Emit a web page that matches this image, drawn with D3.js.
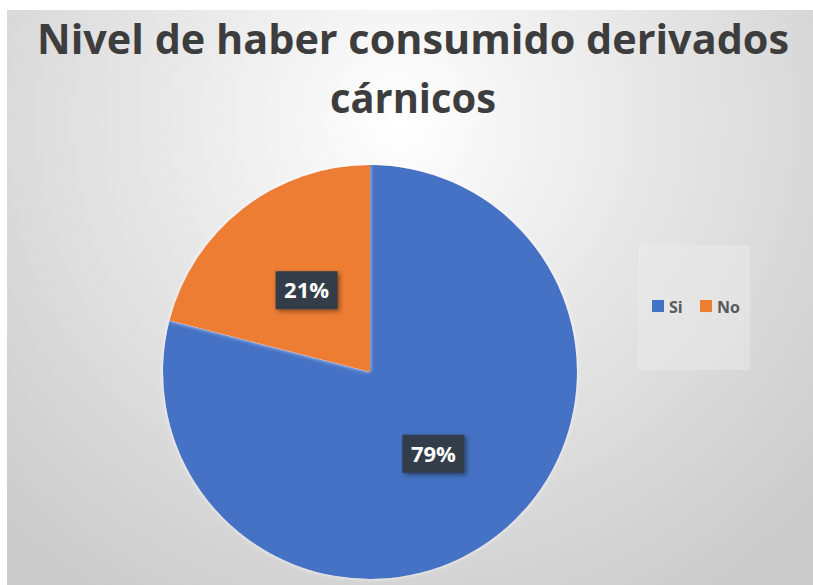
<!DOCTYPE html>
<html><head><meta charset="utf-8">
<script src="https://cdn.jsdelivr.net/npm/d3@7"></script>
<style>html,body{margin:0;padding:0;background:#fff;}svg{display:block;}</style>
</head><body>
<svg id="chart" width="813" height="585"></svg>
<script>
const titleLines = ["Nivel de haber consumido derivados", "cárnicos"];
const categories = ["Si", "No"];
const values = [79, 21];
const colors = ["#4472C4", "#ED7D31"];

const W = 813, H = 585;
const svg = d3.select("#chart");
const defs = svg.append("defs");
const grad = defs.append("radialGradient").attr("id","bg")
  .attr("gradientUnits","userSpaceOnUse").attr("cx",400).attr("cy",120).attr("r",560);
grad.append("stop").attr("offset","0%").attr("stop-color","#ffffff");
grad.append("stop").attr("offset","35%").attr("stop-color","#ececec");
grad.append("stop").attr("offset","100%").attr("stop-color","#cbcbcb");
const sh = defs.append("filter").attr("id","sh").attr("x","-30%").attr("y","-30%").attr("width","160%").attr("height","160%");
sh.append("feDropShadow").attr("dx",2).attr("dy",2).attr("stdDeviation",2.5).attr("flood-color","#000").attr("flood-opacity",0.45);
const psh = defs.append("filter").attr("id","psh").attr("x","-10%").attr("y","-10%").attr("width","120%").attr("height","120%");
psh.append("feDropShadow").attr("dx",0).attr("dy",0).attr("stdDeviation",2).attr("flood-color","#fff").attr("flood-opacity",0.8);

svg.append("rect").attr("width",W).attr("height",H).attr("fill","#fff");
svg.append("rect").attr("x",7).attr("y",10).attr("width",W-7).attr("height",H-10).attr("fill","url(#bg)");

// Title
const title = svg.append("g").attr("fill","#3d3d3d").attr("font-family","'Open Sans', sans-serif")
  .attr("font-weight","bold").attr("text-anchor","middle").attr("font-size",42);
title.append("text").attr("x",413).attr("y",54)
  .attr("textLength",752).attr("lengthAdjust","spacingAndGlyphs").text(titleLines[0]);
title.append("text").attr("x",413).attr("y",113)
  .attr("textLength",166).attr("lengthAdjust","spacingAndGlyphs").text(titleLines[1]);

// Pie
const cx = 370, cy = 372, r = 207;
const pie = d3.pie().sort(null).value(d => d)(values);
const arc = d3.arc().innerRadius(0).outerRadius(r);
const g = svg.append("g").attr("transform",`translate(${cx},${cy})`);
g.selectAll("path").data(pie).join("path")
  .attr("d", arc).attr("fill",(d,i)=>colors[i]).attr("filter","url(#psh)");

const lab = g.selectAll("g.lab").data(pie).join("g").attr("class","lab")
  .attr("transform", d => `translate(${arc.centroid(d)})`);
lab.append("rect").attr("x",-31).attr("y",-19).attr("width",62).attr("height",38)
  .attr("fill","#303c48").attr("filter","url(#sh)");
lab.append("text").attr("text-anchor","middle").attr("dy","0.36em")
  .attr("font-family","'Open Sans', sans-serif").attr("font-weight","bold").attr("font-size",22)
  .attr("fill","#fff").text(d => Math.round(d.data) + "%");

// Legend
svg.append("rect").attr("x",638).attr("y",245).attr("width",112).attr("height",125).attr("fill","#eeeeee").attr("opacity",0.45);
const legX = [652, 700];
const leg = svg.selectAll("g.leg").data(categories).join("g").attr("class","leg")
  .attr("transform",(d,i)=>`translate(${legX[i]},300)`);
leg.append("rect").attr("width",12).attr("height",12).attr("fill",(d,i)=>colors[i]);
leg.append("text").attr("x",17).attr("y",12.5).attr("font-family","'Open Sans', sans-serif")
  .attr("font-weight","bold").attr("font-size",16).attr("fill","#595959").text(d=>d);
</script>
</body></html>
